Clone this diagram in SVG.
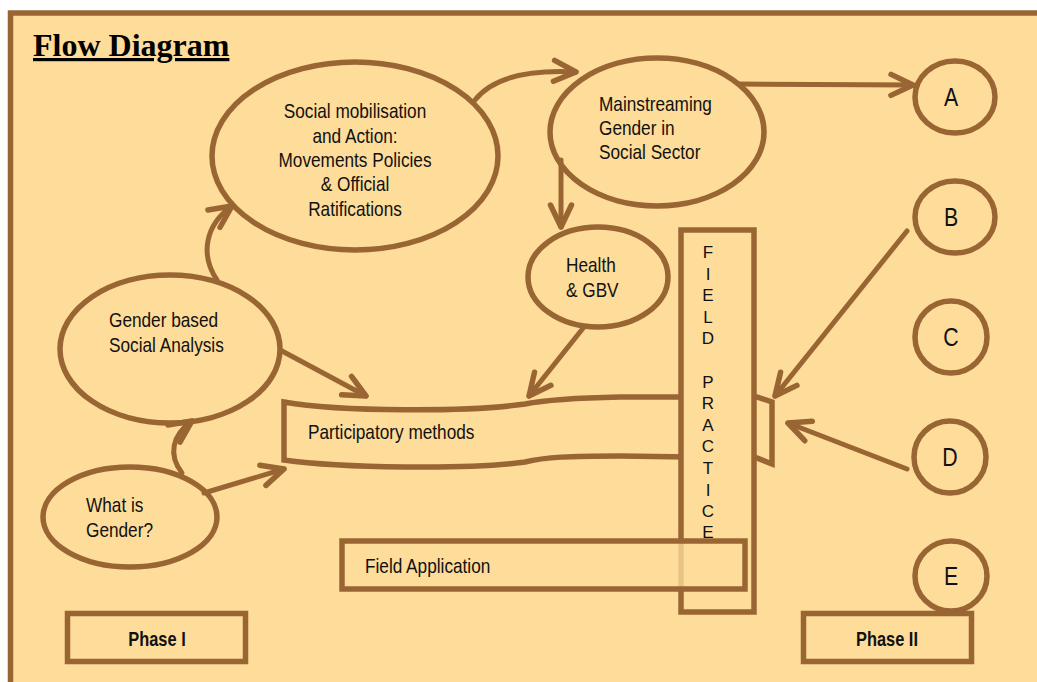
<svg xmlns="http://www.w3.org/2000/svg" width="1037" height="682" viewBox="0 0 1037 682">
<style>
.shape{fill:#FEDC9A;stroke:#996633;stroke-width:5.5}
.conn{fill:none;stroke:#996633;stroke-width:5;stroke-linecap:round;marker-end:url(#ah)}
.t{font-family:"Liberation Sans",Arial,sans-serif;font-size:21px;fill:#111}
.c{text-anchor:middle}
.b{font-weight:bold;font-size:20px}
.big{font-size:26px}
.fp{font-size:17px}
.title{font-family:"Liberation Serif","Times New Roman",serif;font-weight:bold;font-size:32px;fill:#000;text-decoration:underline;text-decoration-thickness:3px}
</style>
<defs>
<marker id="ah" markerUnits="userSpaceOnUse" markerWidth="40" markerHeight="40" viewBox="-30 -20 40 40" refX="0" refY="0" orient="auto" overflow="visible">
<path d="M-22,-10.5 L0,0 L-22,10.5" fill="none" stroke="#996633" stroke-width="5.5" stroke-linecap="round" stroke-linejoin="round"/>
</marker>
</defs>
<rect x="0" y="0" width="1037" height="682" fill="#ffffff"/>
<rect id="frame" x="10.5" y="13" width="1100" height="700" fill="#FEDC9A" stroke="#996633" stroke-width="5.5"/>
<text class="title" x="33" y="56">Flow Diagram</text>

<g id="participatory">
<path class="shape" d="M284,402 C340,412 470,412 525,404 C545,400 570,398 620,397 L757,397 L772,402 L772,464 L757,458 L620,456 C570,456 545,457 525,462 C470,470 340,468 284,460 Z"/>
<text class="t" transform="translate(308 439) scale(0.82 1)">Participatory methods</text>
</g>

<g id="field-practice">
<rect class="shape" x="681" y="230" width="73" height="382" stroke-width="6"/>
<text class="t fp c" x="708" y="258">F</text>
<text class="t fp c" x="708" y="279.6">I</text>
<text class="t fp c" x="708" y="301.2">E</text>
<text class="t fp c" x="708" y="322.8">L</text>
<text class="t fp c" x="708" y="344.4">D</text>
<text class="t fp c" x="708" y="387.6">P</text>
<text class="t fp c" x="708" y="409.2">R</text>
<text class="t fp c" x="708" y="430.8">A</text>
<text class="t fp c" x="708" y="452.4">C</text>
<text class="t fp c" x="708" y="474">T</text>
<text class="t fp c" x="708" y="495.6">I</text>
<text class="t fp c" x="708" y="517.2">C</text>
<text class="t fp c" x="708" y="537.5">E</text>
</g>

<g id="field-application">
<rect class="shape" x="342" y="541" width="403" height="48" style="fill-opacity:0.8"/>
<text class="t" transform="translate(365 573) scale(0.82 1)">Field Application</text>
</g>

<g id="social-mobilisation">
<ellipse class="shape" cx="355" cy="156" rx="143" ry="94"/>
<text class="t c" transform="translate(355 118) scale(0.82 1)">Social mobilisation</text>
<text class="t c" transform="translate(355 142.5) scale(0.82 1)">and Action:</text>
<text class="t c" transform="translate(355 167) scale(0.82 1)">Movements Policies</text>
<text class="t c" transform="translate(355 191) scale(0.82 1)">&amp; Official</text>
<text class="t c" transform="translate(355 215.5) scale(0.82 1)">Ratifications</text>
</g>

<g id="mainstreaming">
<ellipse class="shape" cx="657" cy="132" rx="107" ry="74"/>
<text class="t" transform="translate(599 111) scale(0.82 1)">Mainstreaming</text>
<text class="t" transform="translate(599 135) scale(0.82 1)">Gender in</text>
<text class="t" transform="translate(599 159) scale(0.82 1)">Social Sector</text>
</g>

<g id="health">
<ellipse class="shape" cx="598" cy="277" rx="70" ry="50"/>
<text class="t" transform="translate(566 272) scale(0.82 1)">Health</text>
<text class="t" transform="translate(566 297) scale(0.82 1)">&amp; GBV</text>
</g>

<g id="gender-analysis">
<ellipse class="shape" cx="170" cy="349" rx="110" ry="74"/>
<text class="t" transform="translate(109 327) scale(0.82 1)">Gender based</text>
<text class="t" transform="translate(109 352) scale(0.82 1)">Social Analysis</text>
</g>

<g id="what-is-gender">
<ellipse class="shape" cx="130" cy="517" rx="87" ry="50"/>
<text class="t" transform="translate(86 512) scale(0.82 1)">What is</text>
<text class="t" transform="translate(86 537) scale(0.82 1)">Gender?</text>
</g>

<g id="node-a"><ellipse class="shape" cx="955" cy="97" rx="40" ry="36"/><text class="t big c" transform="translate(951 106) scale(0.82 1)">A</text></g>
<g id="node-b"><ellipse class="shape" cx="955" cy="217" rx="40" ry="36"/><text class="t big c" transform="translate(951 226) scale(0.82 1)">B</text></g>
<g id="node-c"><ellipse class="shape" cx="951" cy="337" rx="36" ry="36"/><text class="t big c" transform="translate(951 346) scale(0.82 1)">C</text></g>
<g id="node-d"><ellipse class="shape" cx="950" cy="457" rx="36" ry="36"/><text class="t big c" transform="translate(950 466) scale(0.82 1)">D</text></g>
<g id="node-e"><ellipse class="shape" cx="951" cy="576" rx="36" ry="35"/><text class="t big c" transform="translate(951 585) scale(0.82 1)">E</text></g>

<g id="phase-1"><rect class="shape" x="67.5" y="613.5" width="178" height="48" stroke-width="5"/><text class="t b c" transform="translate(157 646) scale(0.82 1)">Phase I</text></g>
<g id="phase-2"><rect class="shape" x="803.5" y="613.5" width="168" height="48" stroke-width="5"/><text class="t b c" transform="translate(887 646) scale(0.82 1)">Phase II</text></g>

<g id="connectors">
<path class="conn" d="M475,100 Q500,68 576,72"/>
<path class="conn" d="M217,280 C200,255 205,225 232,206"/>
<path class="conn" d="M182,473 C168,455 172,435 192,421"/>
<path class="conn" d="M204,493 L284,469"/>
<path class="conn" d="M282,351 L366,396"/>
<path class="conn" d="M584,327 L529,396"/>
<path class="conn" d="M561,160 L561,227"/>
<path class="conn" d="M738,84 L913,85"/>
<path class="conn" d="M907,231 L775,396"/>
<path class="conn" d="M907,469 L788,423"/>
</g>
</svg>
